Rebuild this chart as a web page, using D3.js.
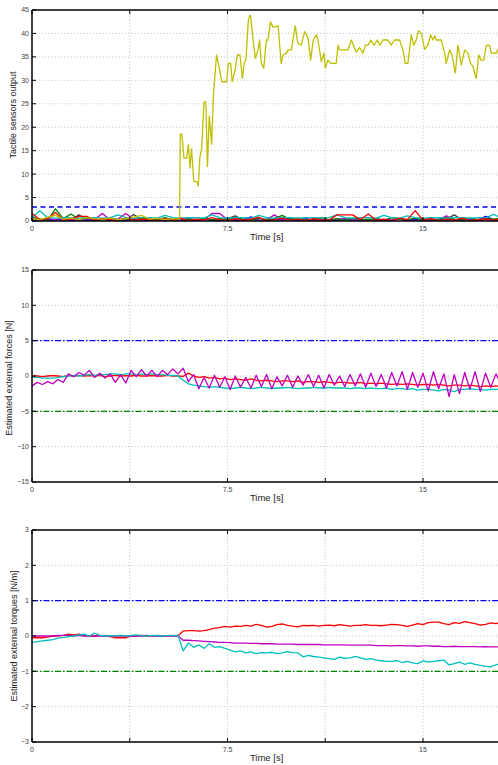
<!DOCTYPE html>
<html><head><meta charset="utf-8">
<script src="https://cdn.jsdelivr.net/npm/d3@7"></script>
<style>
html,body{margin:0;padding:0;background:#fff;}
svg{display:block;font-family:"Liberation Sans",Arial,Helvetica,sans-serif;}
</style></head>
<body>
<svg id="chart" width="498" height="765"></svg>
<script>
// ---------------- DATA ----------------
const xTicks = [0, 3.75, 7.5, 11.25, 15];
const xTickLabels = ["0", "", "7.5", "", "15"];
const xLabel = "Time [s]";

const panelLabels = ["Tactile sensors output", "Estimated external forces [N]", "Estimated external torques [N/m]"];
const panelDomains = [[0, 45], [-15, 15], [-3, 3]];
const panelTicks = [[0,5,10,15,20,25,30,35,40,45], [-15,-10,-5,0,5,10,15], [-3,-2,-1,0,1,2,3]];
const thresholdsTop = [3];
const thresholdsMid = [5, -5];
const thresholdsBot = [1, -1];

// top panel: tactile sensor outputs (time grid 0..18, step 0.3)
const tNoise = [0,0.3,0.6,0.9,1.2,1.5,1.8,2.1,2.4,2.7,3.0,3.3,3.6,3.9,4.2,4.5,4.8,5.1,5.4,5.7,6.0,6.3,6.6,6.9,7.2,7.5,7.8,8.1,8.4,8.7,9.0,9.3,9.6,9.9,10.2,10.5,10.8,11.1,11.4,11.7,12.0,12.3,12.6,12.9,13.2,13.5,13.8,14.1,14.4,14.7,15.0,15.3,15.6,15.9,16.2,16.5,16.8,17.1,17.4,17.7,18.0];
const sensorRed = [1.6,0.3,0.5,1.8,0.2,0.4,1.0,1.0,0.2,0.5,0.3,0.1,0.6,0.2,0.4,0.3,0.1,0.5,0.2,0.6,0.1,0.4,0.2,0.7,0.3,0.1,0.5,0.2,0.4,0.8,0.1,0.3,0.6,0.2,0.4,0.1,0.5,0.3,0.2,1.3,1.3,1.3,0.3,1.5,0.2,0.4,0.1,0.6,0.3,2.2,0.2,0.5,0.1,0.4,0.2,0.6,0.1,0.3,0.5,0.2,0.4];
const sensorGreen = [0.8,0.4,0.2,2.6,0.5,1.5,0.3,0.6,0.4,0.2,0.7,0.3,0.5,0.2,0.6,0.4,0.3,0.7,0.2,0.5,0.4,0.3,0.6,0.2,0.5,0.3,0.7,0.4,0.2,0.6,0.3,0.5,1.2,0.3,0.6,0.2,0.4,0.7,0.3,0.5,0.2,0.6,0.4,0.3,0.5,0.2,0.7,0.4,0.3,0.6,0.2,0.5,0.3,0.7,0.4,0.2,0.6,0.3,0.5,0.4,0.7];
const sensorBlue = [0.3,0.1,0.4,0.2,0.5,0.1,0.3,0.2,0.1,0.4,0.2,0.3,0.1,0.5,0.2,0.1,0.3,0.2,0.4,0.1,0.3,0.2,0.5,0.1,0.2,0.4,0.1,0.3,0.9,0.2,0.1,0.4,0.2,0.3,0.1,0.5,0.2,0.1,0.3,0.2,0.4,0.1,0.3,0.2,0.5,0.1,0.2,0.4,0.1,0.3,0.2,0.1,0.4,0.2,0.3,0.1,0.5,0.2,1.0,0.3,0.2];
const sensorCyan = [0.7,2.2,0.7,0.6,0.7,0.7,0.6,0.7,0.7,0.6,0.7,1.3,0.7,0.6,0.7,0.7,0.6,1.2,0.7,0.6,0.7,0.7,0.6,1.3,0.7,0.6,0.7,0.7,0.6,1.2,0.7,0.6,0.7,0.7,0.6,0.7,0.7,0.6,0.7,1.3,0.7,0.6,0.7,0.7,0.6,1.2,0.7,0.6,1.1,0.7,0.6,0.7,0.7,0.6,0.7,0.7,0.6,0.7,0.6,1.4,0.7];
const sensorMagenta = [0.4,0.2,0.5,0.3,0.1,0.4,0.2,0.5,0.3,1.6,0.2,0.4,1.6,0.3,0.2,0.5,0.1,0.3,0.4,0.2,0.5,0.3,0.2,1.6,1.6,0.3,0.4,0.2,0.5,0.1,0.3,1.3,0.2,0.4,0.3,0.5,0.1,0.3,0.2,0.4,0.5,0.2,0.3,0.1,0.4,0.3,0.2,0.5,0.3,0.1,0.4,0.2,0.3,1.1,0.2,0.4,0.5,0.1,0.3,0.2,0.4];
const sensorGray = [0.2,0.4,0.1,0.3,0.5,0.2,1.3,0.3,0.2,0.4,0.1,0.3,0.2,1.4,0.3,0.1,0.4,0.2,0.3,0.5,0.1,0.2,0.4,0.3,0.1,0.5,1.1,0.2,0.3,0.1,0.4,0.2,0.3,0.5,0.2,0.1,0.3,0.4,0.2,0.1,0.3,0.5,0.2,0.4,0.1,0.3,0.2,0.4,0.1,0.3,0.5,0.2,0.1,0.4,1.3,0.2,0.3,0.1,0.4,0.2,0.3];

// contact sensor (yellow)
const tContact = [0,0.3,0.6,0.9,1.2,1.5,1.8,2.1,2.4,2.7,3.0,3.3,3.6,3.9,4.2,4.5,4.8,5.1,5.4,5.66,
  5.69,5.75,5.83,5.93,6.00,6.06,6.12,6.21,6.32,6.38,6.44,6.51,6.60,6.67,6.73,6.80,6.89,6.96,7.08,7.15,7.28,7.47,7.53,7.62,7.68,7.79,7.88,7.98,8.07,8.14,8.21,8.30,8.36,
  8.39,8.48,8.57,8.67,8.73,8.80,8.89,8.99,9.05,9.15,9.24,9.33,9.44,9.56,9.63,9.76,9.82,9.95,10.1,10.2,10.33,10.46,10.59,10.69,10.79,10.91,10.97,11.1,11.2,11.25,11.35,11.48,11.67,11.74,11.8,12.12,12.25,12.44,12.57,12.7,12.79,12.89,13.0,13.12,13.25,13.34,13.46,13.65,13.78,13.91,14.1,14.23,14.32,14.42,14.55,14.64,14.74,14.83,14.94,15.06,15.19,15.29,15.38,15.45,15.51,15.7,15.83,15.89,16.02,16.11,16.24,16.34,16.47,16.6,16.72,16.83,16.92,17.04,17.14,17.23,17.33,17.43,17.55,17.62,17.81,17.95];
const vContact = [0.5,0.3,0.8,1.2,0.4,0.6,0.3,0.7,0.5,0.4,0.6,0.3,0.5,0.8,1.2,0.4,0.6,0.3,0.5,0.4,
  18.5,18.5,13.4,13.4,16.3,11.3,15.4,8.4,8.4,7.5,13.5,15.5,25.4,25.4,11.6,22.4,16.4,26.9,35.4,33.6,29.7,29.7,33.6,33.6,29.7,32.2,35.4,35.4,30.4,33.6,34.6,42.9,43.9,
  43.6,38.6,34.7,36.5,38.6,33.6,32.6,38.6,38.6,42.5,41.4,41.4,41.6,33.6,35.4,35.8,36.5,36.5,41.6,37.9,37.5,40.4,39.0,34.3,38.6,39.7,38.6,34.0,35.8,32.6,34.3,33.6,33.6,37.5,36.5,36.5,38.6,36.0,37.0,35.8,37.5,37.5,38.6,37.5,38.6,37.5,38.6,38.6,37.5,38.6,38.6,36.5,33.6,33.6,39.7,37.5,38.6,40.6,40.0,36.6,37.5,39.7,38.6,39.5,38.6,38.6,35.8,33.6,36.5,35.4,31.6,37.5,33.3,36.5,35.8,33.6,32.9,30.4,35.4,34.3,34.3,37.5,37.5,35.8,35.8,37.5];

// middle & bottom panels (time grid 0..18, step 0.2)
const tEst = [0,0.2,0.4,0.6,0.8,1.0,1.2,1.4,1.6,1.8,2.0,2.2,2.4,2.6,2.8,3.0,3.2,3.4,3.6,3.8,4.0,4.2,4.4,4.6,4.8,5.0,5.2,5.4,5.6,5.8,6.0,6.2,6.4,6.6,6.8,7.0,7.2,7.4,7.6,7.8,8.0,8.2,8.4,8.6,8.8,9.0,9.2,9.4,9.6,9.8,10.0,10.2,10.4,10.6,10.8,11.0,11.2,11.4,11.6,11.8,12.0,12.2,12.4,12.6,12.8,13.0,13.2,13.4,13.6,13.8,14.0,14.2,14.4,14.6,14.8,15.0,15.2,15.4,15.6,15.8,16.0,16.2,16.4,16.6,16.8,17.0,17.2,17.4,17.6,17.8,18.0];
const forceRed = [0,0,-0.1,0,0.05,0,-0.1,0.1,0,0.1,0,0.05,0,0.1,-0.1,0,0.1,0,0.05,0,0.1,0,0,0.05,0,0,0.1,0,0,-0.05,0.4,0,-0.2,-0.1,-0.3,-0.2,-0.4,-0.3,-0.5,-0.4,-0.5,-0.6,-0.4,-0.6,-0.7,-0.6,-0.7,-0.8,-0.7,-0.7,-0.8,-0.7,-0.9,-0.8,-0.8,-0.9,-0.8,-0.9,-1.0,-0.9,-0.9,-1.0,-1.0,-0.9,-1.1,-1.0,-1.1,-1.0,-1.1,-1.2,-1.1,-1.2,-1.1,-1.2,-1.3,-1.2,-1.2,-1.3,-1.2,-1.3,-1.4,-1.3,-1.3,-1.4,-1.3,-1.4,-1.5,-1.4,-1.5,-1.4,-1.5];
const forceCyan = [-0.2,-0.2,-0.3,-0.3,-0.3,-0.2,-0.1,0.0,0.1,0.0,0.1,0.2,0.1,0.2,0.2,0.3,0.3,0.2,0.3,0.3,0.2,0.3,0.2,0.3,0.2,0.2,0.1,0.1,0.0,-0.6,-1.1,-1.3,-1.4,-1.5,-1.6,-1.5,-1.6,-1.7,-1.8,-1.7,-1.6,-1.7,-1.8,-1.7,-1.6,-1.7,-1.8,-1.7,-1.7,-1.6,-1.7,-1.8,-1.7,-1.7,-1.6,-1.7,-1.7,-1.6,-1.7,-1.7,-1.7,-1.8,-1.7,-1.7,-1.8,-1.7,-1.8,-1.8,-1.7,-1.9,-1.8,-1.8,-1.9,-1.8,-2.0,-1.9,-1.9,-2.0,-2.1,-1.9,-2.0,-2.2,-1.9,-1.9,-1.8,-1.9,-1.9,-2.0,-1.9,-1.9,-1.9];
const forceMagenta = [-1.4,-0.9,-1.2,-0.8,-1.1,-0.5,-0.9,0.3,-0.1,0.5,0.1,0.8,-0.2,0.4,-0.3,0.3,-0.9,0.2,-1.0,0.8,-0.1,0.9,0.0,0.8,-0.1,0.8,0.2,1.0,0.3,1.1,-0.8,0.2,-1.8,-0.2,-1.7,0.1,-1.6,-0.1,-1.9,0.0,-1.6,-0.2,-1.7,0.1,-1.5,0.2,-1.8,-0.1,-1.4,0.1,-1.6,0.0,-1.3,0.2,-1.5,0.1,-1.7,0.2,-1.3,0.0,-1.5,0.2,-1.4,0.3,-1.6,0.4,-1.5,0.2,-1.7,0.5,-1.4,0.6,-1.9,0.5,-1.6,0.4,-2.1,0.6,-1.8,0.3,-2.9,0.2,-2.5,0.5,-1.9,0.6,-2.2,0.4,-1.6,0.3,-1.2];
const torqueRed = [-0.05,-0.05,-0.05,-0.03,0,0,0.02,0.05,0.03,0.05,0.02,0,0,0.02,0,-0.02,-0.05,-0.05,-0.05,0,0,0.02,0,0,0.02,0,0,0.02,0,0.14,0.15,0.15,0.14,0.15,0.18,0.22,0.24,0.27,0.25,0.28,0.27,0.3,0.28,0.33,0.3,0.25,0.27,0.32,0.34,0.3,0.28,0.26,0.3,0.29,0.3,0.28,0.3,0.31,0.29,0.32,0.3,0.28,0.3,0.3,0.32,0.3,0.3,0.29,0.31,0.33,0.32,0.3,0.27,0.31,0.35,0.32,0.38,0.39,0.39,0.35,0.32,0.38,0.36,0.41,0.38,0.35,0.31,0.33,0.37,0.35,0.38];
const torqueMagenta = [0,0,0,0,0,0.02,0.02,0.02,0,0.02,0,0,0,0,0,0,0,0,0,0,0,0,0.02,0,0,0,0,0,0,-0.12,-0.12,-0.13,-0.14,-0.15,-0.16,-0.17,-0.18,-0.18,-0.19,-0.2,-0.2,-0.2,-0.21,-0.21,-0.22,-0.22,-0.22,-0.23,-0.23,-0.23,-0.23,-0.24,-0.24,-0.24,-0.24,-0.24,-0.25,-0.25,-0.25,-0.25,-0.25,-0.26,-0.26,-0.26,-0.26,-0.26,-0.27,-0.27,-0.27,-0.28,-0.27,-0.27,-0.28,-0.28,-0.29,-0.28,-0.28,-0.29,-0.29,-0.3,-0.3,-0.29,-0.3,-0.3,-0.3,-0.3,-0.31,-0.3,-0.31,-0.31,-0.31];
const torqueCyan = [-0.18,-0.16,-0.14,-0.12,-0.1,-0.06,-0.04,-0.02,0,0.03,0.05,0.0,0.08,0.02,0.0,0.01,0,0.02,0,0.02,0.03,0.01,0,0.02,0.01,0,0.02,0.01,0.02,-0.42,-0.2,-0.32,-0.25,-0.35,-0.22,-0.32,-0.3,-0.35,-0.4,-0.45,-0.42,-0.48,-0.45,-0.5,-0.47,-0.48,-0.46,-0.5,-0.48,-0.44,-0.47,-0.48,-0.59,-0.55,-0.58,-0.6,-0.62,-0.64,-0.66,-0.6,-0.63,-0.62,-0.58,-0.62,-0.66,-0.64,-0.68,-0.7,-0.72,-0.72,-0.7,-0.75,-0.72,-0.76,-0.78,-0.7,-0.74,-0.72,-0.7,-0.68,-0.82,-0.78,-0.74,-0.8,-0.76,-0.8,-0.83,-0.86,-0.87,-0.82,-0.78];

// ---------------- DRAW ----------------
const C = {red:"#ff0000", green:"#008000", blue:"#0000ff", cyan:"#00bfbf", magenta:"#bf00bf", yellow:"#bfbf00", gray:"#404040"};
const svg = d3.select("#chart");
const x = d3.scaleLinear().domain([0, 15]).range([32, 423]);
const xEnd = 18;
const layout = [{top:10, bottom:221, lx:13, ly:115}, {top:270, bottom:482, lx:9, ly:378}, {top:530, bottom:742, lx:14, ly:636}];

function pairs(ts, vs){ const n = Math.min(ts.length, vs.length); const out=[]; for(let i=0;i<n;i++) out.push([ts[i], vs[i]]); return out; }

const panelSeries = [
  { thr: thresholdsTop, thrColors:[C.blue], thrDash:"5,3.5",
    lines: [[tNoise,sensorGray,C.gray],[tNoise,sensorBlue,C.blue],[tNoise,sensorMagenta,C.magenta],[tNoise,sensorGreen,C.green],[tNoise,sensorCyan,C.cyan],[tNoise,sensorRed,C.red],[tContact,vContact,C.yellow]] },
  { thr: thresholdsMid, thrColors:[C.blue, C.green], thrDash:"6,2,1.5,2",
    lines: [[tEst,forceRed,C.red],[tEst,forceCyan,C.cyan],[tEst,forceMagenta,C.magenta]] },
  { thr: thresholdsBot, thrColors:[C.blue, C.green], thrDash:"6,2,1.5,2",
    lines: [[tEst,torqueRed,C.red],[tEst,torqueMagenta,C.magenta],[tEst,torqueCyan,C.cyan]] }
];

layout.forEach((L, p) => {
  const y = d3.scaleLinear().domain(panelDomains[p]).range([L.bottom, L.top]);
  const g = svg.append("g");
  const x0 = x(0), x1 = x(xEnd);
  const clipId = "clip" + p;
  svg.append("clipPath").attr("id", clipId).append("rect")
    .attr("x", x0).attr("y", L.top).attr("width", x1 - x0).attr("height", L.bottom - L.top);

  // grid
  const gridG = g.append("g").attr("stroke", "#b4b4b4").attr("stroke-width", 0.8).attr("stroke-dasharray", "1,2.2");
  panelTicks[p].forEach(v => { if (v !== panelDomains[p][0] && v !== panelDomains[p][1])
    gridG.append("line").attr("x1", x0).attr("x2", x1).attr("y1", y(v)).attr("y2", y(v)); });
  xTicks.forEach(v => { if (v !== 0)
    gridG.append("line").attr("x1", x(v)).attr("x2", x(v)).attr("y1", L.top).attr("y2", L.bottom); });

  // thresholds
  const S = panelSeries[p];
  S.thr.forEach((v, i) => {
    g.append("line").attr("x1", x0).attr("x2", x1).attr("y1", y(v)).attr("y2", y(v))
      .attr("stroke", S.thrColors[i]).attr("stroke-width", 1.4).attr("stroke-dasharray", S.thrDash);
  });

  // data lines
  const line = d3.line().x(d => x(d[0])).y(d => y(d[1]));
  const lg = g.append("g").attr("clip-path", `url(#${clipId})`);
  S.lines.forEach(([ts, vs, col]) => {
    lg.append("path").datum(pairs(ts, vs)).attr("d", line)
      .attr("fill", "none").attr("stroke", col).attr("stroke-width", 1.3).attr("stroke-linejoin", "round");
  });

  // axes frame
  const ax = g.append("g").attr("stroke", "#000");
  ax.append("line").attr("x1", x0).attr("x2", x1).attr("y1", L.top).attr("y2", L.top).attr("stroke-width", 1.3);
  ax.append("line").attr("x1", x0).attr("x2", x1).attr("y1", L.bottom).attr("y2", L.bottom).attr("stroke-width", 1.3);
  ax.append("line").attr("x1", x0).attr("x2", x0).attr("y1", L.top).attr("y2", L.bottom).attr("stroke-width", 1.5);
  // x tick marks (inward, bottom and top)
  xTicks.forEach(v => {
    ax.append("line").attr("x1", x(v)).attr("x2", x(v)).attr("y1", L.bottom).attr("y2", L.bottom - 4).attr("stroke-width", 1);
    ax.append("line").attr("x1", x(v)).attr("x2", x(v)).attr("y1", L.top).attr("y2", L.top + 4).attr("stroke-width", 1);
  });
  panelTicks[p].forEach(v => {
    ax.append("line").attr("x1", x0).attr("x2", x0 + 4).attr("y1", y(v)).attr("y2", y(v)).attr("stroke-width", 1);
  });

  // tick labels
  const fmt = d3.format("");
  panelTicks[p].forEach(v => {
    g.append("text").attr("x", x0 - 3).attr("y", y(v)).attr("dy", "0.35em")
      .attr("text-anchor", "end").attr("font-size", 7).attr("fill", "#444").text(fmt(v));
  });
  xTicks.forEach((v, i) => {
    if (!xTickLabels[i]) return;
    g.append("text").attr("x", x(v)).attr("y", L.bottom + 10)
      .attr("text-anchor", "middle").attr("font-size", 7).attr("fill", "#444").text(xTickLabels[i]);
  });
  g.append("text").attr("x", (x0 + x1) / 2).attr("y", L.bottom + 19)
    .attr("text-anchor", "middle").attr("font-size", 9.5).attr("fill", "#222").text(xLabel);
  g.append("text").attr("transform", `translate(${L.lx},${L.ly}) rotate(-90)`).attr("dy", "0.35em")
    .attr("text-anchor", "middle").attr("font-size", 9).attr("fill", "#222").text(panelLabels[p]);
});
</script>
</body></html>
